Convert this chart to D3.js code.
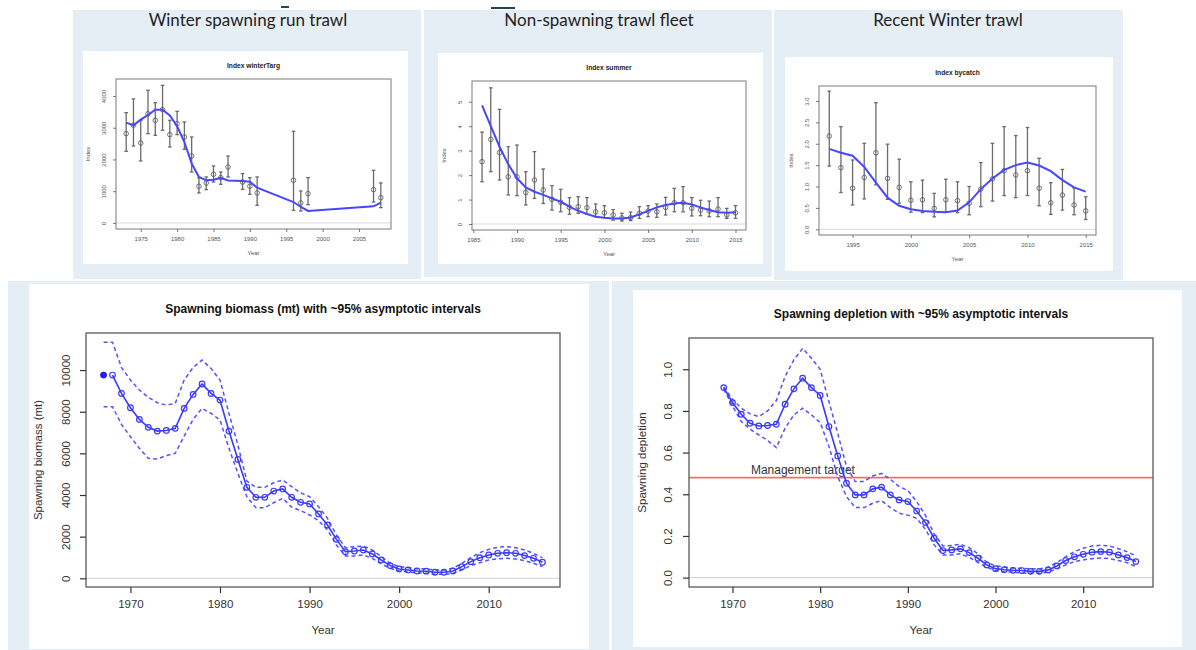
<!DOCTYPE html>
<html>
<head>
<meta charset="utf-8">
<script src="https://cdn.jsdelivr.net/npm/d3@7"></script>
<style>
  body { margin: 0; background: #fff; }
  svg { display: block; }
</style>
</head>
<body>
<svg id="chart" width="1196" height="650"></svg>
<script>
// ---- index data: winterTarg ----
var winterYears = [1973, 1974, 1975, 1976, 1977, 1978, 1979, 1980, 1981, 1982, 1983, 1984, 1985, 1986, 1987, 1989, 1990, 1991, 1996, 1997, 1998, 2007, 2008];
var winterObs = [2814, 3080, 2520, 3440, 3234, 3570, 2782, 3129, 2709, 2110, 1155, 1260, 1533, 1428, 1764, 1291, 1155, 945, 1344, 630, 924, 1050, 798];
var winterLo = [2258, 2425, 1953, 2814, 2761, 2919, 2394, 2782, 2320, 1606, 945, 1050, 1291, 1218, 1449, 1060, 903, 556, 399, 378, 577, 661, 483];
var winterHi = [3475, 3906, 3234, 4179, 3790, 4336, 3234, 3517, 3181, 2709, 1417, 1449, 1795, 1606, 2110, 1554, 1428, 1449, 2887, 1008, 1428, 1659, 1260];
var winterFit = [3160, 3076, 3255, 3400, 3570, 3570, 3390, 3045, 2550, 1870, 1450, 1344, 1360, 1420, 1340, 1320, 1300, 1110, 660, 504, 378, 525, 640];

// ---- index data: summer ----
var summerYears = d3.range(1986, 2016);
var summerObs = [2.55, 3.46, 2.92, 1.93, 1.93, 1.29, 1.80, 1.39, 1.01, 0.89, 0.68, 0.71, 0.67, 0.50, 0.46, 0.37, 0.25, 0.26, 0.44, 0.53, 0.50, 0.68, 0.87, 0.87, 0.64, 0.57, 0.54, 0.61, 0.37, 0.46];
var summerLo = [1.73, 2.14, 1.80, 1.19, 1.16, 0.78, 1.05, 0.84, 0.57, 0.50, 0.40, 0.44, 0.41, 0.30, 0.26, 0.16, 0.12, 0.14, 0.23, 0.30, 0.27, 0.37, 0.50, 0.50, 0.33, 0.34, 0.30, 0.30, 0.23, 0.23];
var summerHi = [3.76, 5.57, 4.69, 3.16, 3.23, 2.14, 2.96, 2.25, 1.57, 1.42, 1.08, 1.12, 1.08, 0.82, 0.75, 0.59, 0.44, 0.49, 0.71, 0.75, 0.82, 1.09, 1.46, 1.53, 1.08, 0.97, 0.94, 1.08, 0.64, 0.75];
var summerFit = [4.85, 4.00, 3.16, 2.44, 1.87, 1.50, 1.32, 1.19, 1.05, 0.91, 0.71, 0.54, 0.41, 0.30, 0.26, 0.23, 0.23, 0.27, 0.40, 0.54, 0.68, 0.78, 0.84, 0.87, 0.80, 0.68, 0.57, 0.48, 0.46, 0.48];

// ---- index data: bycatch ----
var bycatchYears = d3.range(1993, 2016);
var bycatchObs = [2.18, 1.44, 0.96, 1.21, 1.79, 1.19, 0.98, 0.68, 0.69, 0.49, 0.69, 0.67, 0.61, 0.94, 1.18, 1.37, 1.27, 1.37, 0.96, 0.62, 0.80, 0.57, 0.43];
var bycatchLo = [1.48, 0.86, 0.57, 0.71, 1.04, 0.70, 0.61, 0.40, 0.39, 0.29, 0.40, 0.39, 0.34, 0.53, 0.66, 0.79, 0.74, 0.79, 0.55, 0.35, 0.45, 0.34, 0.23];
var bycatchHi = [3.23, 2.40, 1.62, 2.01, 2.96, 1.99, 1.64, 1.11, 1.15, 0.84, 1.17, 1.11, 1.00, 1.56, 2.01, 2.40, 2.19, 2.38, 1.66, 1.09, 1.40, 0.97, 0.76];
var bycatchFit = [1.88, 1.79, 1.72, 1.46, 1.09, 0.74, 0.55, 0.47, 0.43, 0.41, 0.40, 0.44, 0.63, 0.94, 1.19, 1.39, 1.50, 1.56, 1.49, 1.36, 1.15, 0.98, 0.88];

// ---- spawning biomass (mt) ----
var virginYear = 1967, virginSB = 9760;
var sbYears = d3.range(1968, 2017);
var sbValues = [9760, 8880, 8190, 7630, 7250, 7070, 7100, 7200, 8160, 8830, 9330, 8880, 8560, 7070, 5710, 4370, 3890, 3890, 4190, 4290, 3890, 3650, 3570, 3090, 2560, 1870, 1280, 1310, 1360, 1170, 880, 610, 450, 400, 350, 340, 290, 290, 350, 560, 800, 990, 1120, 1200, 1230, 1200, 1090, 960, 770];
var sbCiYears = d3.range(1967, 2017);
var sbUpper = [11330, 11330, 10130, 9520, 9040, 8690, 8430, 8320, 8400, 9520, 10130, 10480, 10080, 9520, 7920, 6400, 4670, 4370, 4370, 4590, 4720, 4400, 4100, 3920, 3440, 2880, 2080, 1470, 1520, 1550, 1360, 1040, 720, 560, 510, 460, 450, 400, 400, 480, 720, 990, 1230, 1390, 1490, 1520, 1470, 1360, 1200, 990];
var sbLower = [8240, 8240, 7390, 6800, 6240, 5760, 5730, 5890, 6000, 6830, 7630, 8160, 7920, 7600, 6240, 5040, 3920, 3390, 3390, 3630, 3840, 3420, 3250, 3040, 2770, 2320, 1600, 1070, 1070, 1120, 960, 690, 480, 350, 300, 260, 240, 190, 190, 240, 400, 610, 750, 880, 930, 960, 930, 850, 720, 560];

// ---- spawning depletion ----
var depYears = d3.range(1969, 2017);
var depValues = [0.912, 0.840, 0.784, 0.741, 0.728, 0.730, 0.736, 0.832, 0.906, 0.957, 0.912, 0.874, 0.725, 0.584, 0.453, 0.397, 0.397, 0.426, 0.434, 0.397, 0.373, 0.365, 0.320, 0.264, 0.189, 0.130, 0.133, 0.138, 0.120, 0.093, 0.061, 0.043, 0.038, 0.035, 0.034, 0.030, 0.030, 0.037, 0.056, 0.082, 0.100, 0.112, 0.122, 0.125, 0.122, 0.109, 0.096, 0.077];
var depUpper = [0.915, 0.856, 0.813, 0.786, 0.773, 0.800, 0.850, 0.965, 1.045, 1.100, 1.053, 1.000, 0.845, 0.693, 0.533, 0.461, 0.461, 0.488, 0.500, 0.472, 0.437, 0.418, 0.365, 0.300, 0.210, 0.152, 0.154, 0.160, 0.144, 0.114, 0.074, 0.056, 0.051, 0.046, 0.045, 0.042, 0.042, 0.050, 0.072, 0.100, 0.125, 0.141, 0.152, 0.155, 0.152, 0.139, 0.125, 0.104];
var depLower = [0.905, 0.824, 0.749, 0.712, 0.685, 0.658, 0.624, 0.717, 0.781, 0.813, 0.781, 0.744, 0.629, 0.485, 0.389, 0.336, 0.336, 0.357, 0.370, 0.336, 0.309, 0.300, 0.285, 0.232, 0.157, 0.109, 0.109, 0.114, 0.098, 0.072, 0.050, 0.034, 0.027, 0.026, 0.022, 0.021, 0.021, 0.026, 0.043, 0.061, 0.077, 0.085, 0.091, 0.094, 0.091, 0.082, 0.072, 0.053];
var managementTarget = 0.48;

var svg = d3.select("#chart");
var PANEL_BG = "#e6eef5";
var BLUE = "#3a3aff";
var RFONT = "'Liberation Sans', Arial, sans-serif";

// slide-style panels behind the charts
[[73, 10, 421, 279], [424, 10, 772, 277], [774, 10, 1123, 280], [8, 281, 609, 650], [612, 281, 1196, 650]]
  .forEach(function (b) {
    svg.append("rect").attr("x", b[0]).attr("y", b[1]).attr("width", b[2] - b[0]).attr("height", b[3] - b[1]).attr("fill", PANEL_BG);
  });
// white chart images
[[83, 51, 408, 264], [438, 53, 763, 264], [785, 57, 1113, 271], [29, 284, 589, 649], [633, 290, 1182, 647]]
  .forEach(function (b) {
    svg.append("rect").attr("x", b[0]).attr("y", b[1]).attr("width", b[2] - b[0]).attr("height", b[3] - b[1]).attr("fill", "#fff");
  });
// cut-off marks at the very top of the slide
svg.append("rect").attr("x", 281).attr("y", 6).attr("width", 8).attr("height", 2).attr("fill", "#1d4a55");
svg.append("rect").attr("x", 491).attr("y", 7).attr("width", 24).attr("height", 2).attr("fill", "#1d4a55");

// slide headings
[["Winter spawning run trawl", 248], ["Non-spawning trawl fleet", 599], ["Recent Winter trawl", 948]].forEach(function (h) {
  svg.append("text").attr("x", h[1]).attr("y", 26).attr("text-anchor", "middle")
    .attr("font-family", "Lato, 'Open Sans', sans-serif").attr("font-size", 17).attr("fill", "#222").text(h[0]);
});

// R-like axis helper: removes the domain path and styles ticks/labels
function styleAxis(g, color, fontSize, stroke) {
  g.select(".domain").remove();
  g.selectAll(".tick line").attr("stroke", color).attr("stroke-width", stroke);
  g.selectAll(".tick text").attr("fill", color).attr("font-size", fontSize).attr("font-family", RFONT);
}

function rotateYLabels(g, offset) {
  g.selectAll(".tick text")
    .attr("x", null).attr("dy", null)
    .attr("transform", "rotate(-90)")
    .attr("y", -offset)
    .attr("text-anchor", "middle")
    .attr("dominant-baseline", "central");
}

// small index plot (top row)
function indexPlot(p) {
  var x = d3.scaleLinear().domain(p.xDom).range([p.box[0], p.box[2]]);
  var y = d3.scaleLinear().domain(p.yDom).range([p.box[3], p.box[1]]);
  var g = svg.append("g");

  g.append("line").attr("x1", p.box[0]).attr("x2", p.box[2]).attr("y1", y(0)).attr("y2", y(0))
    .attr("stroke", "#cfcfcf").attr("stroke-width", 0.8);

  var bars = g.append("g").attr("stroke", "#6b6b6b").attr("stroke-width", 1.3).selectAll("g")
    .data(p.years).enter().append("g");
  bars.append("line").attr("x1", function (d) { return x(d); }).attr("x2", function (d) { return x(d); })
    .attr("y1", function (d, i) { return y(p.lo[i]); }).attr("y2", function (d, i) { return y(p.hi[i]); });
  bars.append("line").attr("x1", function (d) { return x(d) - 1.8; }).attr("x2", function (d) { return x(d) + 1.8; })
    .attr("y1", function (d, i) { return y(p.lo[i]); }).attr("y2", function (d, i) { return y(p.lo[i]); });
  bars.append("line").attr("x1", function (d) { return x(d) - 1.8; }).attr("x2", function (d) { return x(d) + 1.8; })
    .attr("y1", function (d, i) { return y(p.hi[i]); }).attr("y2", function (d, i) { return y(p.hi[i]); });

  g.append("g").selectAll("circle").data(p.years).enter().append("circle")
    .attr("cx", function (d) { return x(d); }).attr("cy", function (d, i) { return y(p.obs[i]); })
    .attr("r", 2.3).attr("fill", "none").attr("stroke", "#555").attr("stroke-width", 0.8);

  var line = d3.line().x(function (d) { return x(d); }).y(function (d, i) { return y(p.fit[i]); });
  g.append("path").datum(p.years).attr("d", line).attr("fill", "none").attr("stroke", "#4747ff").attr("stroke-width", 2);

  g.append("rect").attr("x", p.box[0]).attr("y", p.box[1]).attr("width", p.box[2] - p.box[0]).attr("height", p.box[3] - p.box[1])
    .attr("fill", "none").attr("stroke", "#7a7a7a").attr("stroke-width", 1);

  var ax = g.append("g").attr("transform", "translate(0," + p.box[3] + ")")
    .call(d3.axisBottom(x).tickValues(p.xTicks).tickFormat(d3.format("d")).tickSize(3).tickPadding(5));
  styleAxis(ax, "#555", 6, 0.8);
  var ay = g.append("g").attr("transform", "translate(" + p.box[0] + ",0)")
    .call(d3.axisLeft(y).tickValues(p.yTicks).tickFormat(p.yFmt).tickSize(3));
  styleAxis(ay, "#555", 6, 0.8);
  rotateYLabels(ay, 12);

  g.append("text").attr("x", (p.box[0] + p.box[2]) / 2).attr("y", p.box[1] - 11).attr("text-anchor", "middle")
    .attr("font-family", RFONT).attr("font-size", 6.7).attr("font-weight", "bold").attr("fill", "#222").text(p.title);
  g.append("text").attr("x", (p.box[0] + p.box[2]) / 2).attr("y", p.box[3] + 26).attr("text-anchor", "middle")
    .attr("font-family", RFONT).attr("font-size", 6).attr("fill", "#555").text("Year");
  g.append("text").attr("transform", "translate(" + (p.box[0] - 28) + "," + ((p.box[1] + p.box[3]) / 2) + ") rotate(-90)")
    .attr("text-anchor", "middle").attr("dominant-baseline", "central")
    .attr("font-family", RFONT).attr("font-size", 6).attr("fill", "#555").text("Index");
}

indexPlot({
  title: "Index winterTarg", box: [116, 79, 391, 229],
  xDom: [1971.6, 2009.4], yDom: [-190, 4535],
  years: winterYears, obs: winterObs, lo: winterLo, hi: winterHi, fit: winterFit,
  xTicks: [1975, 1980, 1985, 1990, 1995, 2000, 2005], yTicks: [0, 1000, 2000, 3000, 4000], yFmt: d3.format("d")
});
indexPlot({
  title: "Index summer", box: [472, 81, 746, 230],
  xDom: [1984.85, 2016.2], yDom: [-0.245, 5.85],
  years: summerYears, obs: summerObs, lo: summerLo, hi: summerHi, fit: summerFit,
  xTicks: [1985, 1990, 1995, 2000, 2005, 2010, 2015], yTicks: [0, 1, 2, 3, 4, 5], yFmt: d3.format("d")
});
indexPlot({
  title: "Index bycatch", box: [819, 86, 1096, 235],
  xDom: [1992.12, 2015.88], yDom: [-0.133, 3.35],
  years: bycatchYears, obs: bycatchObs, lo: bycatchLo, hi: bycatchHi, fit: bycatchFit,
  xTicks: [1995, 2000, 2005, 2010, 2015], yTicks: [0, 0.5, 1, 1.5, 2, 2.5, 3], yFmt: d3.format(".1f")
});

// time series plot with ~95% intervals (bottom row)
function tsPlot(p) {
  var x = d3.scaleLinear().domain(p.xDom).range([p.box[0], p.box[2]]);
  var y = d3.scaleLinear().domain(p.yDom).range([p.box[3], p.box[1]]);
  var g = svg.append("g");

  g.append("line").attr("x1", p.box[0]).attr("x2", p.box[2]).attr("y1", y(0)).attr("y2", y(0))
    .attr("stroke", "#cfcfcf").attr("stroke-width", 1);

  if (p.target !== undefined) {
    g.append("line").attr("x1", p.box[0]).attr("x2", p.box[2]).attr("y1", y(p.target)).attr("y2", y(p.target))
      .attr("stroke", "#ff6b6b").attr("stroke-width", 1.6);
    g.append("text").attr("x", x(1972.1)).attr("y", y(p.target) - 4)
      .attr("font-family", RFONT).attr("font-size", 12).attr("fill", "#333").text("Management target");
  }

  var ciLine = function (arr) {
    return d3.line().x(function (d) { return x(d); }).y(function (d, i) { return y(arr[i]); });
  };
  [p.upper, p.lower].forEach(function (arr) {
    g.append("path").datum(p.ciYears).attr("d", ciLine(arr)).attr("fill", "none")
      .attr("stroke", "#5252ff").attr("stroke-width", 1.5).attr("stroke-dasharray", "4,3");
  });

  g.append("path").datum(p.years).attr("d", ciLine(p.values)).attr("fill", "none")
    .attr("stroke", BLUE).attr("stroke-width", 1.6);
  g.append("g").selectAll("circle").data(p.years).enter().append("circle")
    .attr("cx", function (d) { return x(d); }).attr("cy", function (d, i) { return y(p.values[i]); })
    .attr("r", 2.8).attr("fill", "none").attr("stroke", BLUE).attr("stroke-width", 1.2);

  if (p.virgin) {
    g.append("circle").attr("cx", x(p.virgin[0])).attr("cy", y(p.virgin[1])).attr("r", 3)
      .attr("fill", "#1f1fff").attr("stroke", "#1f1fff");
  }

  g.append("rect").attr("x", p.box[0]).attr("y", p.box[1]).attr("width", p.box[2] - p.box[0]).attr("height", p.box[3] - p.box[1])
    .attr("fill", "none").attr("stroke", "#5a5a5a").attr("stroke-width", 1.3);

  var ax = g.append("g").attr("transform", "translate(0," + p.box[3] + ")")
    .call(d3.axisBottom(x).tickValues([1970, 1980, 1990, 2000, 2010]).tickFormat(d3.format("d")).tickSize(6).tickPadding(7));
  styleAxis(ax, "#333", 11.5, 1.2);
  var ay = g.append("g").attr("transform", "translate(" + p.box[0] + ",0)")
    .call(d3.axisLeft(y).tickValues(p.yTicks).tickFormat(p.yFmt).tickSize(6));
  styleAxis(ay, "#333", 11.5, 1.2);
  rotateYLabels(ay, p.yTickOff);

  g.append("text").attr("x", (p.box[0] + p.box[2]) / 2).attr("y", p.box[1] - 20).attr("text-anchor", "middle")
    .attr("font-family", RFONT).attr("font-size", 12).attr("font-weight", "bold").attr("fill", "#111").text(p.title);
  g.append("text").attr("x", (p.box[0] + p.box[2]) / 2).attr("y", p.box[3] + 47).attr("text-anchor", "middle")
    .attr("font-family", RFONT).attr("font-size", 11.5).attr("fill", "#333").text("Year");
  g.append("text").attr("transform", "translate(" + (p.box[0] - p.yLabOff) + "," + ((p.box[1] + p.box[3]) / 2) + ") rotate(-90)")
    .attr("text-anchor", "middle").attr("dominant-baseline", "central")
    .attr("font-family", RFONT).attr("font-size", 11.5).attr("fill", "#333").text(p.yLabel);
}

tsPlot({
  title: "Spawning biomass (mt) with ~95% asymptotic intervals", yLabel: "Spawning biomass (mt)",
  box: [86, 333, 560, 587], xDom: [1965.04, 2017.96], yDom: [-418, 11780],
  years: sbYears, values: sbValues, ciYears: sbCiYears, upper: sbUpper, lower: sbLower,
  virgin: [virginYear, virginSB],
  yTicks: [0, 2000, 4000, 6000, 8000, 10000], yFmt: d3.format("d"), yTickOff: 20, yLabOff: 48
});
tsPlot({
  title: "Spawning depletion with ~95% asymptotic intervals", yLabel: "Spawning depletion",
  box: [689, 338, 1153, 587], xDom: [1965.04, 2017.96], yDom: [-0.045, 1.15],
  years: depYears, values: depValues, ciYears: depYears, upper: depUpper, lower: depLower,
  target: managementTarget,
  yTicks: [0, 0.2, 0.4, 0.6, 0.8, 1.0], yFmt: d3.format(".1f"), yTickOff: 21, yLabOff: 47
});
</script>
</body>
</html>
